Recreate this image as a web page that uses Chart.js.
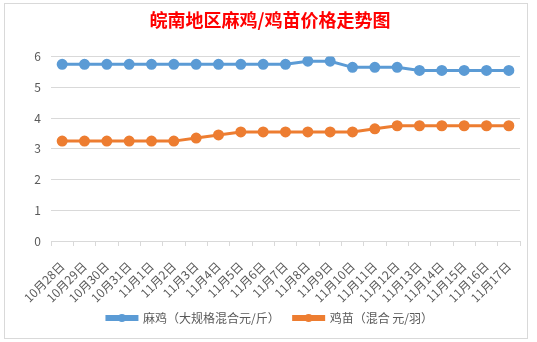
<!DOCTYPE html>
<html>
<head>
<meta charset="utf-8">
<script src="https://cdn.jsdelivr.net/npm/chart.js@4/dist/chart.umd.min.js"></script>
<style>
html,body{margin:0;padding:0;background:#fff;}
#wrap{position:relative;width:537px;height:342px;}
#frame{position:absolute;left:4px;top:3px;width:522px;height:334px;border:1px solid #d9d9d9;pointer-events:none;}
canvas{position:absolute;left:0;top:0;}
</style>
</head>
<body>
<div id="wrap">
<canvas id="c" width="537" height="342"></canvas>
<div id="frame"></div>
</div>
<script>
const categories = ["10月28日","10月29日","10月30日","10月31日","11月1日","11月2日","11月3日","11月4日","11月5日","11月6日","11月7日","11月8日","11月9日","11月10日","11月11日","11月12日","11月13日","11月14日","11月15日","11月16日","11月17日"];
const majiPrice = [5.75,5.75,5.75,5.75,5.75,5.75,5.75,5.75,5.75,5.75,5.75,5.85,5.85,5.65,5.65,5.65,5.55,5.55,5.55,5.55,5.55];
const jimiaoPrice = [3.25,3.25,3.25,3.25,3.25,3.25,3.35,3.45,3.55,3.55,3.55,3.55,3.55,3.55,3.65,3.75,3.75,3.75,3.75,3.75,3.75];
const seriesNames = ["麻鸡（大规格混合元/斤）","鸡苗（混合 元/羽）"];
const titleText = "皖南地区麻鸡/鸡苗价格走势图";
const yTicks = [0,1,2,3,4,5,6];

const FONT = "'Noto Sans CJK SC', 'Noto Sans', sans-serif";
const GREY = "#595959";

const legendDots = {
  id: 'legendDots',
  afterDraw(chart) {
    const lg = chart.legend;
    if (!lg || !lg.legendHitBoxes) return;
    const ctx = chart.ctx;
    lg.legendHitBoxes.forEach((hb, i) => {
      const ds = chart.data.datasets[i];
      const bw = lg.options.labels.boxWidth;
      const cx = hb.left + bw / 2;
      const cy = hb.top + hb.height / 2;
      ctx.save();
      ctx.fillStyle = ds.borderColor;
      ctx.beginPath();
      ctx.arc(cx, cy, 4, 0, Math.PI * 2);
      ctx.fill();
      ctx.restore();
    });
  }
};

new Chart(document.getElementById('c'), {
  type: 'line',
  data: {
    labels: categories,
    datasets: [
      { label: seriesNames[0], data: majiPrice, borderColor: '#5B9BD5', backgroundColor: '#5B9BD5',
        pointBackgroundColor: '#5B9BD5', pointBorderColor: '#5B9BD5', borderWidth: 3, pointRadius: 4, tension: 0 },
      { label: seriesNames[1], data: jimiaoPrice, borderColor: '#ED7D31', backgroundColor: '#ED7D31',
        pointBackgroundColor: '#ED7D31', pointBorderColor: '#ED7D31', borderWidth: 3, pointRadius: 4, tension: 0 }
    ]
  },
  options: {
    responsive: false,
    animation: false,
    layout: { padding: { top: 3, left: 20, right: 17, bottom: 8 } },
    plugins: {
      title: { display: true, text: titleText, color: '#FF0000',
        font: { family: FONT, size: 18, weight: 'bold' }, padding: { top: 6, bottom: 26 } },
      legend: { position: 'bottom',
        labels: { color: GREY, font: { family: FONT, size: 12 }, boxWidth: 30, boxHeight: 3, padding: 14 } },
      tooltip: { enabled: false }
    },
    scales: {
      x: {
        offset: true,
        grid: { offset: true, drawOnChartArea: false, drawTicks: true, tickLength: 5, color: '#d9d9d9' },
        border: { display: true, color: '#d9d9d9' },
        ticks: { color: GREY, font: { family: FONT, size: 12 }, minRotation: 45, maxRotation: 45, autoSkip: false, padding: 13 },
        afterFit(scale) { scale.height -= 20; },
        afterUpdate(scale) { scale._computeLabelArea = function () { return undefined; }; }
      },
      y: {
        min: 0, max: 6,
        afterBuildTicks(scale) { scale.ticks = yTicks.map(v => ({ value: v })); },
        afterFit(scale) { scale.width = 31; },
        grid: { color: '#d9d9d9', drawTicks: false },
        border: { display: false },
        ticks: { color: GREY, font: { family: FONT, size: 12 }, padding: 10 }
      }
    }
  },
  plugins: [legendDots]
});
</script>
</body>
</html>
